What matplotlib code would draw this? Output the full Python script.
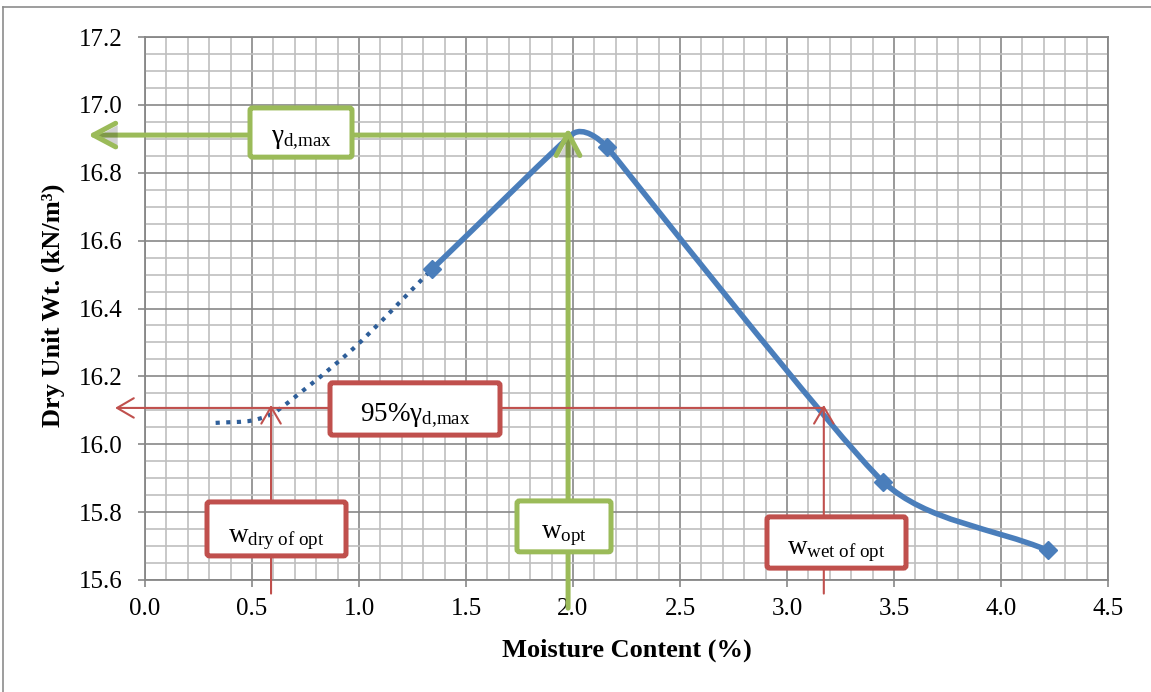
import matplotlib
matplotlib.use("Agg")
import matplotlib.pyplot as plt
import numpy as np
from matplotlib.path import Path
from matplotlib.patches import PathPatch, FancyBboxPatch
from matplotlib.lines import Line2D
import matplotlib.patheffects as pe

plt.rcParams["font.family"] = ["Liberation Serif", "DejaVu Serif"]
plt.rcParams["mathtext.fontset"] = "custom"
plt.rcParams["mathtext.rm"] = "Liberation Serif"
plt.rcParams["mathtext.it"] = "Liberation Serif:italic"
plt.rcParams["mathtext.bf"] = "Liberation Serif:bold"

# Compaction curve (moisture content %, dry unit weight kN/m3)
moisture = [1.34, 2.00, 2.16, 3.45, 4.22]
dry_unit_wt = [16.515, 16.915, 16.875, 15.889, 15.687]
measured_idx = [0, 2, 3, 4]

# Extrapolated dry side of the curve
dry_side_w = [0.33, 0.50, 0.62, 0.97, 1.34]
dry_side_gamma = [16.063, 16.070, 16.100, 16.280, 16.515]

# Reference levels
gamma_max = 16.911
w_opt = 1.977
gamma_95 = 16.107
w_dry_of_opt = 0.589
w_wet_of_opt = 3.172

x_ticks = [0.0, 0.5, 1.0, 1.5, 2.0, 2.5, 3.0, 3.5, 4.0, 4.5]
y_ticks = [15.6, 15.8, 16.0, 16.2, 16.4, 16.6, 16.8, 17.0, 17.2]

BLUE = "#4A7EBB"
DARK_BLUE = "#2E5E99"
GREEN = "#9BBB59"
RED = "#C0504D"
MAJOR_GRID = "#878787"
MINOR_GRID = "#BFBFBF"

W, H = 1151, 692
fig = plt.figure(figsize=(W / 100, H / 100), dpi=100)
ax = fig.add_axes([145 / W, 1 - 580 / H, 963 / W, 543 / H])
ax.set_xlim(x_ticks[0], x_ticks[-1])
ax.set_ylim(y_ticks[0], y_ticks[-1])

ax.set_xticks(x_ticks)
ax.set_xticklabels([f"{v:.1f}" for v in x_ticks])
ax.set_yticks(y_ticks)
ax.set_yticklabels([f"{v:.1f}" for v in y_ticks])
ax.set_xticks(np.arange(0, 4.5001, 0.1), minor=True)
ax.set_yticks(np.arange(15.6, 17.2001, 0.05), minor=True)

ax.grid(which="minor", color=MINOR_GRID, lw=1.2, zorder=0)
ax.grid(which="major", color=MAJOR_GRID, lw=1.2, zorder=0.5)
ax.set_axisbelow(True)
for s in ax.spines.values():
    s.set_color(MAJOR_GRID)
    s.set_linewidth(1.3)
ax.tick_params(which="major", direction="out", length=5, width=1.2,
               color=MAJOR_GRID, labelsize=18)
ax.tick_params(which="minor", length=0)
ax.tick_params(axis="x", pad=8)
ax.tick_params(axis="y", pad=11)

ax.set_xlabel("Moisture Content (%)", fontsize=19, fontweight="bold")
ax.set_ylabel("Dry Unit Wt. (kN/m³)", fontsize=19, fontweight="bold")
ax.xaxis.label.set_va("center")
ax.yaxis.label.set_va("center")
ax.xaxis.set_label_coords(0.5, -0.129)
ax.yaxis.set_label_coords(-0.0955, 0.505)


def smooth_path(xs, ys):
    """Smoothed Bezier path through the points; handle length follows the
    shorter neighbouring chord so short segments do not overshoot."""
    pts = ax.transData.transform(np.column_stack([xs, ys]))
    n = len(pts)

    def tangent(i):
        a = pts[max(i - 1, 0)]
        b = pts[min(i + 1, n - 1)]
        v = b - a
        return v / np.linalg.norm(v)

    def arm(i):
        ds = []
        if i > 0:
            ds.append(np.linalg.norm(pts[i] - pts[i - 1]))
        if i < n - 1:
            ds.append(np.linalg.norm(pts[i + 1] - pts[i]))
        return min(ds) / 3

    verts = [pts[0]]
    codes = [Path.MOVETO]
    for i in range(n - 1):
        c1 = pts[i] + tangent(i) * arm(i)
        c2 = pts[i + 1] - tangent(i + 1) * arm(i + 1)
        verts += [c1, c2, pts[i + 1]]
        codes += [Path.CURVE4] * 3
    verts = ax.transData.inverted().transform(np.array(verts))
    return Path(verts, codes)


# Extrapolated dotted part
ax.add_patch(PathPatch(smooth_path(dry_side_w, dry_side_gamma), fill=False,
                       ec=DARK_BLUE, lw=3.0, linestyle=(0, (1, 1.55)),
                       capstyle="butt", zorder=3))
# Measured compaction curve
ax.add_patch(PathPatch(smooth_path(moisture, dry_unit_wt), fill=False,
                       ec=BLUE, lw=4.0, capstyle="round", joinstyle="round",
                       zorder=3))
ax.plot([moisture[i] for i in measured_idx],
        [dry_unit_wt[i] for i in measured_idx],
        ls="none", marker="D", ms=9, color=BLUE, zorder=4)


def arrow(tail, tip, color, lw, hl, hw, shadow=False):
    props = dict(arrowstyle=f"->,head_length={hl},head_width={hw}",
                 color=color, lw=lw, shrinkA=0, shrinkB=0,
                 mutation_scale=10, capstyle="round", joinstyle="round")
    ann = ax.annotate("", xy=tip, xytext=tail, xycoords="data",
                      arrowprops=props, annotation_clip=False, zorder=5)
    if shadow:
        ann.arrow_patch.set_path_effects([
            pe.SimplePatchShadow(offset=(1.5, -1.5), shadow_rgbFace="#000000",
                                 alpha=0.18),
            pe.Normal()])
    return ann


# Maximum dry unit weight and optimum moisture content
arrow((w_opt, gamma_max), (-0.266, gamma_max), GREEN, 3.6, 1.6, 0.85, True)
arrow((w_opt, 15.517), (w_opt, 16.932), GREEN, 3.6, 1.6, 0.85, True)

# 95 % level and the two moisture contents it gives
arrow((w_wet_of_opt, gamma_95), (-0.14, gamma_95), RED, 1.5, 1.2, 0.7)
arrow((w_dry_of_opt, 15.56), (w_dry_of_opt, gamma_95 + 0.009), RED, 1.5, 1.2, 0.7)
arrow((w_wet_of_opt, 15.56), (w_wet_of_opt, gamma_95 + 0.009), RED, 1.5, 1.2, 0.7)

# Label boxes: (x0, x1, y0, y1, colour, text)
boxes = [
    (0.4907, 0.9673, 16.846, 16.991, GREEN, r"$\mathrm{γ}_{\mathrm{d{,}max}}$"),
    (0.8645, 1.6589, 16.027, 16.181, RED, r"$\mathrm{95\%γ}_{\mathrm{d{,}max}}$"),
    (0.2897, 0.9393, 15.671, 15.830, RED, r"$\mathrm{w}_{\mathrm{dry\ of\ opt}}$"),
    (1.7383, 2.1776, 15.683, 15.833, GREEN, r"$\mathrm{w}_{\mathrm{opt}}$"),
    (2.9065, 3.5561, 15.635, 15.786, RED, r"$\mathrm{w}_{\mathrm{wet\ of\ opt}}$"),
]
aspect = 214.0 / 339.4
for x0, x1, y0, y1, col, txt in boxes:
    box = FancyBboxPatch((x0, y0), x1 - x0, y1 - y0,
                         boxstyle="round,pad=0,rounding_size=0.012",
                         mutation_aspect=aspect, fc="white", ec=col, lw=3.6,
                         zorder=6, clip_on=False)
    if col == GREEN:
        box.set_path_effects([
            pe.SimplePatchShadow(offset=(1.5, -1.5), shadow_rgbFace="#000000",
                                 alpha=0.15),
            pe.Normal()])
    ax.add_patch(box)
    ax.text((x0 + x1) / 2, y0 + 0.040, txt, ha="center", va="baseline",
            fontsize=19.5, zorder=7)

# Outer frame of the chart
fig.add_artist(Line2D([3 / W, 3 / W], [0, 1 - 7 / H], color="#8C8C8C", lw=1.2))
fig.add_artist(Line2D([3 / W, 1], [1 - 7 / H, 1 - 7 / H], color="#8C8C8C", lw=1.2))

fig.savefig("out.png", dpi=100, facecolor="white")
